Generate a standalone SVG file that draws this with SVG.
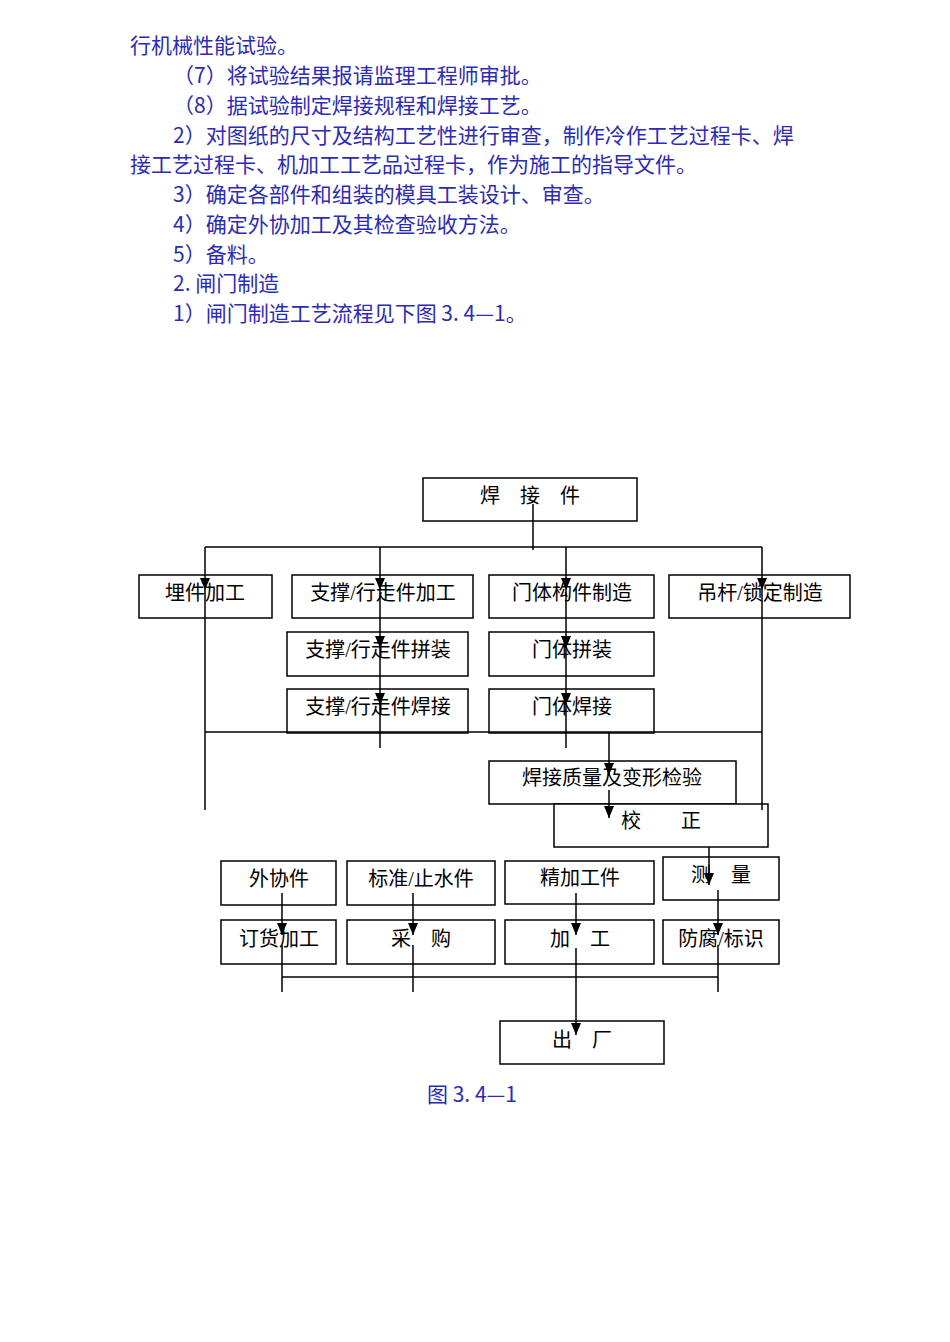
<svg xmlns="http://www.w3.org/2000/svg" width="950" height="1342" viewBox="0 0 950 1342">
<defs>
<style>
.t{font-family:"Noto Sans CJK SC",sans-serif;font-size:21px;fill:#2b2bb8}
.n{font-family:"Liberation Serif","Noto Sans CJK SC",serif;font-size:20px;fill:#000;text-anchor:middle}
rect{fill:#fff;stroke:#000;stroke-width:1.5}
.c line{stroke:#000;stroke-width:1.5}
</style>
<marker id="a" markerWidth="12" markerHeight="10" refX="12" refY="5" orient="auto" markerUnits="userSpaceOnUse"><path d="M0,0L12,5L0,10Z" fill="#000"/></marker>
</defs>
<rect x="0" y="0" width="950" height="1342" style="stroke:none"/>
<text class="t" x="130" y="53">行机械性能试验。</text>
<text class="t" x="173" y="83">（7）将试验结果报请监理工程师审批。</text>
<text class="t" x="173" y="113">（8）据试验制定焊接规程和焊接工艺。</text>
<text class="t" x="173" y="143">2）对图纸的尺寸及结构工艺性进行审查，制作冷作工艺过程卡、焊</text>
<text class="t" x="130" y="172">接工艺过程卡、机加工工艺品过程卡，作为施工的指导文件。</text>
<text class="t" x="173" y="202">3）确定各部件和组装的模具工装设计、审查。</text>
<text class="t" x="173" y="232">4）确定外协加工及其检查验收方法。</text>
<text class="t" x="173" y="262">5）备料。</text>
<text class="t" x="173" y="291">2.  闸门制造</text>
<text class="t" x="173" y="321">1）闸门制造工艺流程见下图 3. 4—1。</text>
<g id="n1"><rect x="423" y="478" width="214" height="43"/><text class="n" x="530" y="503">焊　接　件</text></g>
<g id="n2"><rect x="139" y="575" width="133" height="43"/><text class="n" x="205" y="600">埋件加工</text></g>
<g id="n3"><rect x="292" y="575" width="181" height="43"/><text class="n" x="383" y="600">支撑/行走件加工</text></g>
<g id="n4"><rect x="489" y="575" width="165" height="43"/><text class="n" x="572" y="600">门体构件制造</text></g>
<g id="n5"><rect x="669" y="575" width="181" height="43"/><text class="n" x="760" y="600">吊杆/锁定制造</text></g>
<g id="n6"><rect x="287" y="632" width="181" height="44"/><text class="n" x="378" y="657">支撑/行走件拼装</text></g>
<g id="n7"><rect x="489" y="632" width="165" height="44"/><text class="n" x="572" y="657">门体拼装</text></g>
<g id="n8"><rect x="287" y="689" width="181" height="44"/><text class="n" x="378" y="714">支撑/行走件焊接</text></g>
<g id="n9"><rect x="489" y="689" width="165" height="44"/><text class="n" x="572" y="714">门体焊接</text></g>
<g id="n10"><rect x="489" y="761" width="247" height="43"/><text class="n" x="612" y="785">焊接质量及变形检验</text></g>
<g id="n11"><rect x="554" y="804" width="214" height="43"/><text class="n" x="661" y="828">校　　正</text></g>
<g id="n12"><rect x="221" y="861" width="115" height="44"/><text class="n" x="279" y="886">外协件</text></g>
<g id="n13"><rect x="347" y="861" width="148" height="44"/><text class="n" x="421" y="886">标准/止水件</text></g>
<g id="n14"><rect x="505" y="861" width="149" height="43"/><text class="n" x="580" y="885">精加工件</text></g>
<g id="n15"><rect x="663" y="857" width="116" height="43"/><text class="n" x="721" y="882">测　量</text></g>
<g id="n16"><rect x="221" y="920" width="115" height="44"/><text class="n" x="279" y="946">订货加工</text></g>
<g id="n17"><rect x="347" y="920" width="148" height="44"/><text class="n" x="421" y="946">采　购</text></g>
<g id="n18"><rect x="505" y="920" width="149" height="44"/><text class="n" x="580" y="946">加　工</text></g>
<g id="n19"><rect x="663" y="920" width="116" height="44"/><text class="n" x="721" y="946">防腐/标识</text></g>
<g id="n20"><rect x="500" y="1021" width="164" height="43"/><text class="n" x="582" y="1047">出　厂</text></g>
<g class="c" id="connectors">
<line x1="533" y1="504" x2="533" y2="550"/>
<line x1="205" y1="547" x2="762" y2="547"/>
<line x1="205" y1="547" x2="205" y2="590" marker-end="url(#a)"/>
<line x1="380" y1="547" x2="380" y2="590" marker-end="url(#a)"/>
<line x1="566" y1="547" x2="566" y2="590" marker-end="url(#a)"/>
<line x1="762" y1="547" x2="762" y2="590" marker-end="url(#a)"/>
<line x1="205" y1="590" x2="205" y2="810"/>
<line x1="762" y1="590" x2="762" y2="810"/>
<line x1="380" y1="590" x2="380" y2="648" marker-end="url(#a)"/>
<line x1="380" y1="648" x2="380" y2="705" marker-end="url(#a)"/>
<line x1="380" y1="705" x2="380" y2="748"/>
<line x1="566" y1="590" x2="566" y2="648" marker-end="url(#a)"/>
<line x1="566" y1="648" x2="566" y2="705" marker-end="url(#a)"/>
<line x1="566" y1="705" x2="566" y2="748"/>
<line x1="205" y1="732" x2="762" y2="732"/>
<line x1="609" y1="732" x2="609" y2="775" marker-end="url(#a)"/>
<line x1="609" y1="790" x2="609" y2="818" marker-end="url(#a)"/>
<line x1="709" y1="847" x2="709" y2="885" marker-end="url(#a)"/>
<line x1="282" y1="893" x2="282" y2="935" marker-end="url(#a)"/>
<line x1="413" y1="893" x2="413" y2="935" marker-end="url(#a)"/>
<line x1="576" y1="893" x2="576" y2="935" marker-end="url(#a)"/>
<line x1="718" y1="890" x2="718" y2="935" marker-end="url(#a)"/>
<line x1="282" y1="945" x2="282" y2="992"/>
<line x1="413" y1="945" x2="413" y2="992"/>
<line x1="718" y1="945" x2="718" y2="992"/>
<line x1="282" y1="977" x2="718" y2="977"/>
<line x1="576" y1="948" x2="576" y2="1035" marker-end="url(#a)"/>
</g>
<text class="t" x="472" y="1102" text-anchor="middle">图 3. 4—1</text>
</svg>
